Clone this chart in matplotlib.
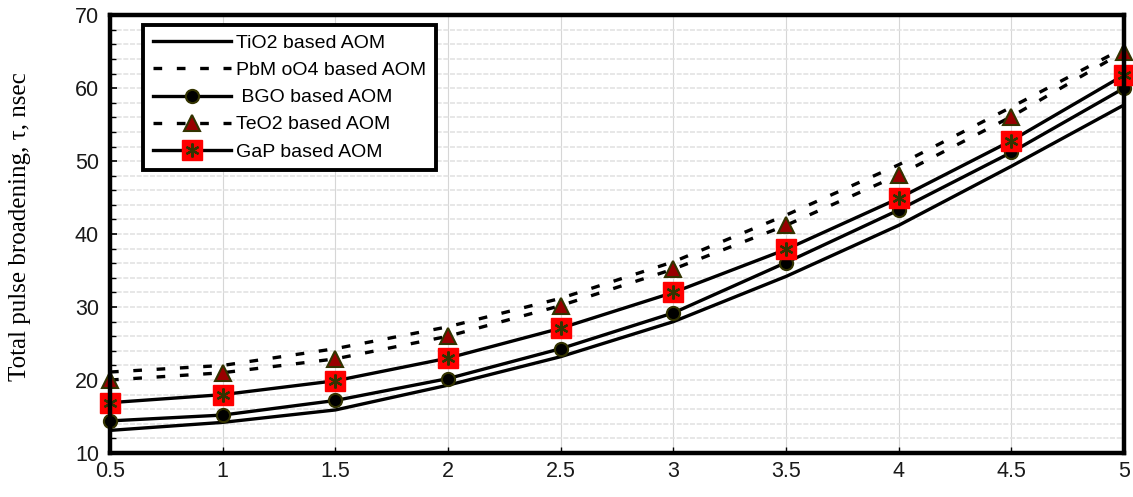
import matplotlib
matplotlib.use("Agg")
import matplotlib.pyplot as plt
from matplotlib.ticker import MultipleLocator
from matplotlib.lines import Line2D

# data
x = [0.5, 1, 1.5, 2, 2.5, 3, 3.5, 4, 4.5, 5]
tio2 = [13.1, 14.2, 15.9, 19.3, 23.2, 28.0, 34.2, 41.2, 49.3, 57.7]
pbmoo4 = [21.1, 22.0, 24.3, 27.3, 31.2, 36.2, 42.6, 49.5, 57.4, 65.5]
bgo = [14.4, 15.2, 17.2, 20.2, 24.3, 29.2, 36.1, 43.3, 51.2, 60.0]
teo2 = [20.0, 21.0, 22.9, 26.0, 30.2, 35.2, 41.2, 48.1, 56.1, 65.0]
gap = [16.9, 18.0, 19.9, 23.0, 27.1, 32.0, 37.9, 44.9, 52.8, 61.8]

xlabels = ["0.5", "1", "1.5", "2", "2.5", "3", "3.5", "4", "4.5", "5"]
labels = ["TiO2 based AOM", "PbM oO4 based AOM", " BGO based AOM",
          "TeO2 based AOM", "GaP based AOM"]

plt.rcParams["font.family"] = ["Liberation Sans", "DejaVu Sans"]

fig = plt.figure(figsize=(11.33, 4.97), dpi=100)
ax = fig.add_axes([0.0971, 0.0885, 0.895, 0.881])

lw = 2.4
olive = "#333300"
dash = (0, (2.6, 4.4))

ax.plot(x, tio2, color="black", lw=lw, label=labels[0], zorder=3)
ax.plot(x, pbmoo4, color="black", lw=lw, linestyle=dash, dash_capstyle="butt",
        label=labels[1], zorder=3)
ax.plot(x, bgo, color="black", lw=lw, marker="o", markersize=9.5,
        markerfacecolor="black", markeredgecolor=olive, markeredgewidth=1.5,
        label=labels[2], zorder=4, clip_on=False)
ax.plot(x, teo2, color="black", lw=lw, linestyle=dash, dash_capstyle="butt",
        marker="^", markersize=11, markerfacecolor="#990000",
        markeredgecolor=olive, markeredgewidth=1.5, label=labels[3], zorder=4,
        clip_on=False)
ax.plot(x, gap, color="black", lw=lw, marker="s", markersize=14,
        markerfacecolor="red", markeredgecolor="red", label="_nolegend_",
        zorder=5, clip_on=False)
ax.plot(x, gap, linestyle="none", marker=(6, 2, 0), markersize=10,
        markeredgecolor=olive, markeredgewidth=1.6, label="_nolegend_",
        zorder=6, clip_on=False)

ax.set_xlim(0.5, 5)
ax.set_ylim(10, 70)
ax.set_xticks(x)
ax.set_xticklabels(xlabels)
ax.yaxis.set_major_locator(MultipleLocator(10))
ax.yaxis.set_minor_locator(MultipleLocator(2))

ax.grid(True, which="both", axis="y", color="#e3e3e3", lw=1.2, linestyle=(0, (3, 1)))
ax.grid(True, which="major", axis="x", color="#d6d6d6", lw=0.8)
ax.set_axisbelow(True)

for s in ax.spines.values():
    s.set_linewidth(3.2)
    s.set_color("black")
    s.set_zorder(7)

ax.tick_params(axis="both", which="both", direction="in", labelsize=15.5,
               colors="black", labelcolor="#1a1a1a")
ax.tick_params(axis="y", which="major", length=5, width=1.2, pad=8)
ax.tick_params(axis="y", which="minor", length=4, width=1)
ax.tick_params(axis="x", which="major", length=4, width=1, pad=6)

ax.set_ylabel("Total pulse broadening, \u03c4, nsec", family="Liberation Serif",
              fontsize=18)
ax.yaxis.set_label_coords(-0.078, 0.518)

# legend: GaP handle is a red square with an asterisk on top
h = ax.get_legend_handles_labels()[0]
gap_sq = Line2D([], [], color="black", lw=lw, marker="s", markersize=14,
                markerfacecolor="red", markeredgecolor="red")
gap_st = Line2D([], [], linestyle="none", marker=(6, 2, 0), markersize=10,
                markeredgecolor=olive, markeredgewidth=1.6)
leg = ax.legend(h + [(gap_sq, gap_st)], labels, loc="upper left",
                bbox_to_anchor=(0.029, 0.987), fontsize=14, handlelength=4.0,
                handletextpad=0.25, labelspacing=0.49, borderpad=0.5,
                borderaxespad=0.2, frameon=True, fancybox=False,
                edgecolor="black", framealpha=1)
leg.get_frame().set_linewidth(2.8)
leg.set_zorder(8)

fig.savefig("out.png", dpi=100)
